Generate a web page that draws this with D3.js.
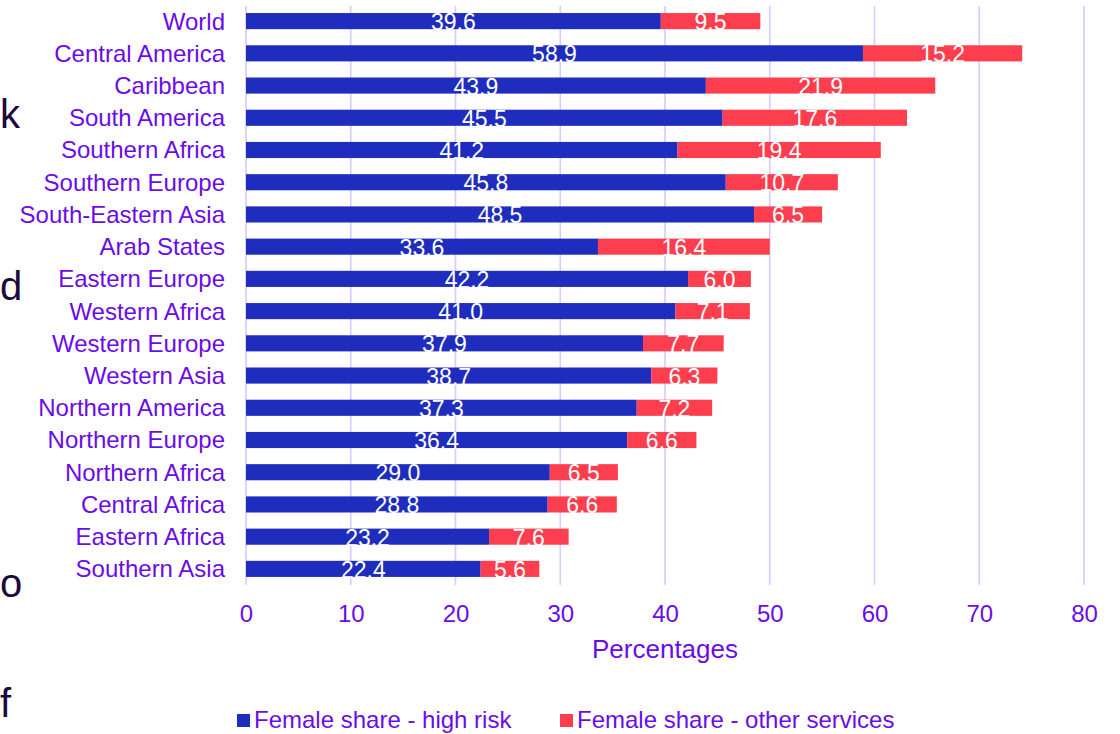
<!DOCTYPE html>
<html><head><meta charset="utf-8">
<script src="https://cdn.jsdelivr.net/npm/d3@7"></script>
<style>body{margin:0;background:#fff;}svg{display:block;font-family:"Liberation Sans",Arial,sans-serif;}</style>
</head><body>
<svg id="c" width="1120" height="734"></svg>
<script>
const categories = ["World","Central America","Caribbean","South America","Southern Africa","Southern Europe","South-Eastern Asia","Arab States","Eastern Europe","Western Africa","Western Europe","Western Asia","Northern America","Northern Europe","Northern Africa","Central Africa","Eastern Africa","Southern Asia"];
const highRisk = [39.6,58.9,43.9,45.5,41.2,45.8,48.5,33.6,42.2,41.0,37.9,38.7,37.3,36.4,29.0,28.8,23.2,22.4];
const otherServices = [9.5,15.2,21.9,17.6,19.4,10.7,6.5,16.4,6.0,7.1,7.7,6.3,7.2,6.6,6.5,6.6,7.6,5.6];
const xTicks = [0,10,20,30,40,50,60,70,80];
const seriesNames = ["Female share - high risk","Female share - other services"];
const colors = ["#1f2dbf","#fd3e4e"];
const strayLetters = [{t:"k",y:128},{t:"d",y:300},{t:"o",y:597},{t:"f",y:717}];

const svg = d3.select("#c");
const purple = "#6a0ce8";
const x = d3.scaleLinear().domain([0,80]).range([246,1084]);
const y = d3.scaleBand().domain(categories).range([5,585]).paddingInner(0.5).paddingOuter(0.25);

// stray text from the underlying page
svg.selectAll("text.stray").data(strayLetters).enter().append("text")
  .attr("class","stray").attr("x",0).attr("y",d=>d.y)
  .attr("font-size",40).attr("fill","#1c0a3c").text(d=>d.t);

// gridlines
svg.append("g").selectAll("line").data(xTicks).enter().append("line")
  .attr("x1",d=>x(d)).attr("x2",d=>x(d)).attr("y1",6).attr("y2",585)
  .attr("stroke","#dac8ff").attr("stroke-width",1.6);

const data = categories.map((c,i)=>({c, a:highRisk[i], b:otherServices[i]}));
const g = svg.append("g");
g.selectAll("rect.a").data(data).enter().append("rect")
  .attr("x",x(0)).attr("y",d=>y(d.c)).attr("width",d=>x(d.a)-x(0)).attr("height",y.bandwidth())
  .attr("fill",colors[0]);
g.selectAll("rect.b").data(data).enter().append("rect")
  .attr("x",d=>x(d.a)).attr("y",d=>y(d.c)).attr("width",d=>x(d.a+d.b)-x(d.a)).attr("height",y.bandwidth())
  .attr("fill",colors[1]);
g.selectAll("text.la").data(data).enter().append("text")
  .attr("x",d=>(x(0)+x(d.a))/2).attr("y",d=>y(d.c)+y.bandwidth()/2+9)
  .attr("text-anchor","middle").attr("font-size",23).attr("fill","#fff").text(d=>d.a.toFixed(1));
g.selectAll("text.lb").data(data).enter().append("text")
  .attr("x",d=>(x(d.a)+x(d.a+d.b))/2).attr("y",d=>y(d.c)+y.bandwidth()/2+9)
  .attr("text-anchor","middle").attr("font-size",23).attr("fill","#fff").text(d=>d.b.toFixed(1));

// y axis labels
const ya = svg.append("g").attr("transform","translate(246,0)")
  .call(d3.axisLeft(y).tickSize(0).tickPadding(21));
ya.select(".domain").remove();
ya.selectAll("text").attr("font-size",24).attr("fill",purple).attr("font-family","Liberation Sans, Arial, sans-serif").attr("dy","0.35em");

// x axis labels
const xa = svg.append("g").attr("transform","translate(0,585)")
  .call(d3.axisBottom(x).tickValues(xTicks).tickSize(0).tickPadding(20));
xa.select(".domain").remove();
xa.selectAll("text").attr("font-size",24).attr("fill",purple).attr("font-family","Liberation Sans, Arial, sans-serif");

svg.append("text").attr("x",665).attr("y",658).attr("text-anchor","middle")
  .attr("font-size",26).attr("fill",purple).text("Percentages");

// legend
const legX = [237,560];
const lg = svg.append("g").selectAll("g").data(seriesNames).enter().append("g");
lg.append("rect").attr("x",(d,i)=>legX[i]).attr("y",714).attr("width",13).attr("height",13).attr("fill",(d,i)=>colors[i]);
lg.append("text").attr("x",(d,i)=>legX[i]+17).attr("y",728).attr("font-size",24).attr("fill",purple).text(d=>d);
</script>
</body></html>
